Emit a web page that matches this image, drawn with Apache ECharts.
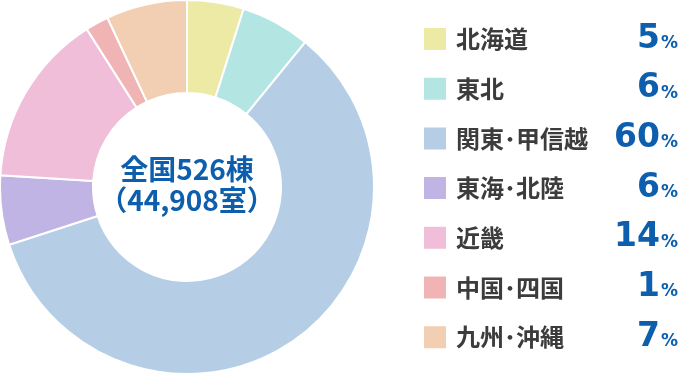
<!DOCTYPE html>
<html><head><meta charset="utf-8">
<script src="https://cdn.jsdelivr.net/npm/echarts@6/dist/echarts.min.js"></script>
<style>html,body{margin:0;padding:0;background:#fff}#c{width:680px;height:374px}</style>
</head><body><div id="c"></div>
<script>
const regions = ['北海道','東北','関東･甲信越','東海･北陸','近畿','中国･四国','九州･沖縄'];
const sliceShares = [4.9, 6.0, 59.1, 6.0, 15.0, 2.0, 7.0];
const percentLabels = [5, 6, 60, 6, 14, 1, 7];
const colors = ['#ECEAA5','#B3E5E3','#B5CEE6','#C0B4E5','#F1BEDA','#F0B4B4','#F2CFB2'];
const centerLines = ['全国526棟','（44,908室）'];

const chart = echarts.init(document.getElementById('c'), null, {renderer:'canvas'});
const pctByName = {};
regions.forEach((r,i)=>pctByName[r]=percentLabels[i]);
chart.setOption({
  animation:false,
  color: colors,
  legend:{
    orient:'vertical', left:422, top:22.5, padding:0,
    icon:'rect', itemWidth:24, itemHeight:24, itemGap:16.7,
    selectedMode:false,
    data: regions,
    formatter: n => '{n|'+n+'}{v|'+pctByName[n]+'}{p|%}',
    textStyle:{
      rich:{
        n:{fontFamily:'"Noto Sans CJK JP"', fontWeight:'bold', fontSize:24, color:'#3c3c3c', width:140, lineHeight:24, padding:[0,0,0,4]},
        v:{fontFamily:'"DejaVu Sans"', fontWeight:'bold', fontSize:33, color:'#0d5fae', width:64, align:'right', lineHeight:24},
        p:{fontFamily:'"DejaVu Sans"', fontWeight:'bold', fontSize:17, color:'#0d5fae', width:18, align:'right', lineHeight:15, padding:[9,0,0,0]}
      }
    }
  },
  graphic:[{
    type:'text', x:187, y:184.5,
    style:{text:centerLines.join('\n'), x:0, y:0, align:'center', verticalAlign:'middle',
      font:'bold 28px "Noto Sans CJK JP"', lineHeight:31, fill:'#0d5fae'},
    silent:true
  }],
  series:[{
    type:'pie', center:[187,187], radius:[94,187], startAngle:90, clockwise:true,
    silent:true, label:{show:false}, labelLine:{show:false},
    itemStyle:{borderColor:'#fff', borderWidth:2},
    data: regions.map((r,i)=>({name:r, value:sliceShares[i]}))
  }]
});
</script></body></html>
